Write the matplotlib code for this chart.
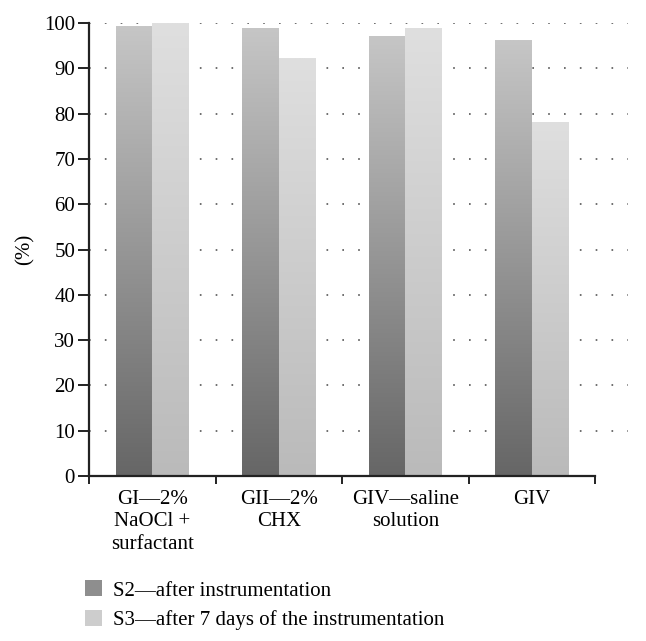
import numpy as np
import matplotlib
matplotlib.use('Agg')
import matplotlib.pyplot as plt
from matplotlib.colors import LinearSegmentedColormap
from matplotlib.patches import Patch

# 数据
categories = ['GI—2%\nNaOCl +\nsurfactant', 'GII—2%\nCHX', 'GIV—saline\nsolution', 'GIV']
s2_values = [99.3, 99.0, 97.2, 96.2]
s3_values = [100.0, 92.2, 99.0, 78.2]
series_names = ['S2—after instrumentation', 'S3—after 7 days of the instrumentation']
yticks = list(range(0, 101, 10))

plt.rcParams['font.family'] = ['Liberation Serif', 'DejaVu Serif']
plt.rcParams['font.size'] = 15

# 渐变色
cmap_dark = LinearSegmentedColormap.from_list('dark', ['#666666', '#c6c6c6'])
cmap_light = LinearSegmentedColormap.from_list('light', ['#bababa', '#dfdfdf'])

fig = plt.figure(figsize=(6.46, 6.41), dpi=100)
ax = fig.add_axes([89 / 646, 1 - 476 / 641, (628 - 89) / 646, (476 - 23) / 641])

x = np.arange(len(categories))
w = 0.29

# 网格线
for t in yticks[1:]:
    ax.axhline(t, color='#555555', lw=1.2, ls=(0, (1, 8.5)), zorder=0)

grad = np.linspace(0, 1, 256).reshape(-1, 1)
for vals, off, cmap in [(s2_values, -w / 2, cmap_dark), (s3_values, w / 2, cmap_light)]:
    bars = ax.bar(x + off, vals, width=w, color='none', edgecolor='none', zorder=2)
    for b in bars:
        x0, y0 = b.get_x(), b.get_y()
        img = ax.imshow(grad, cmap=cmap, aspect='auto', origin='lower',
                        extent=[x0, x0 + b.get_width(), y0, y0 + b.get_height()], zorder=2)
        img.set_clip_path(b)

ax.set_xlim(-0.5, 3.76)
ax.set_ylim(0, 100)

# 坐标轴
for s in ['top', 'right']:
    ax.spines[s].set_visible(False)
for s in ['left', 'bottom']:
    ax.spines[s].set_linewidth(1.6)
    ax.spines[s].set_color('#222222')
    ax.spines[s].set_zorder(3)
ax.spines['bottom'].set_bounds(-0.5, 3.5)

ax.set_yticks(yticks)
ax.tick_params(axis='y', length=8, width=1.4, direction='out', pad=2, color='#222222')
ax.set_xticks(np.arange(-0.5, 4, 1))
ax.set_xticklabels([])
ax.tick_params(axis='x', which='major', length=6, width=1.4, direction='out', color='#222222')
ax.set_xticks(x, minor=True)
ax.set_xticklabels(categories, minor=True, linespacing=1.25, va='top')
ax.tick_params(axis='x', which='minor', length=0, pad=10)

ax.set_ylabel('(%)')
ax.yaxis.set_label_coords(-0.1, 0.5)

handles = [Patch(facecolor='#8e8e8e', edgecolor='none'), Patch(facecolor='#cdcdcd', edgecolor='none')]
fig.legend(handles, series_names, loc='upper left', bbox_to_anchor=(77 / 646, 1 - 572 / 641),
           frameon=False, handlelength=0.8, handleheight=0.8, handletextpad=0.55,
           labelspacing=0.45, borderaxespad=0)

fig.savefig('out.png', dpi=100)
